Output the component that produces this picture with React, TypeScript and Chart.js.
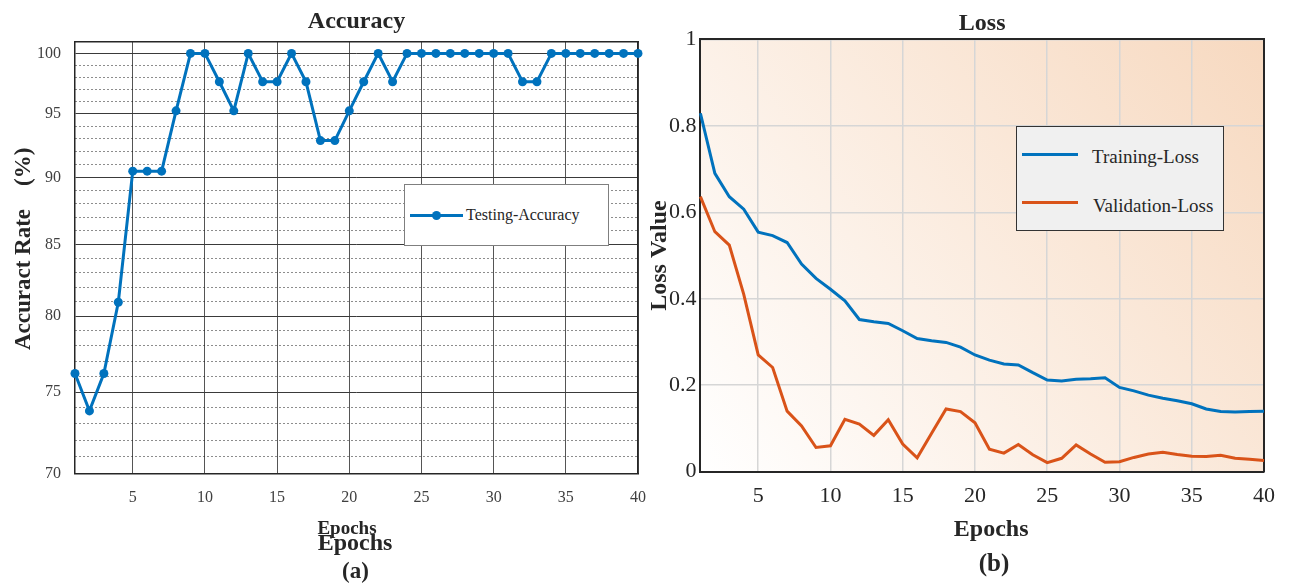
import React, { useEffect, useRef } from 'react';
import { Chart, registerables } from 'chart.js';

Chart.register(...registerables);

// ---------------- data ----------------
const epochs = [1, 2, 3, 4, 5, 6, 7, 8, 9, 10, 11, 12, 13, 14, 15, 16, 17, 18, 19, 20,
  21, 22, 23, 24, 25, 26, 27, 28, 29, 30, 31, 32, 33, 34, 35, 36, 37, 38, 39, 40];

const testingAccuracy = [76.19, 73.81, 76.19, 80.95, 90.48, 90.48, 90.48, 95.24, 100, 100,
  97.62, 95.24, 100, 97.62, 97.62, 100, 97.62, 92.86, 92.86, 95.24,
  97.62, 100, 97.62, 100, 100, 100, 100, 100, 100, 100,
  100, 97.62, 97.62, 100, 100, 100, 100, 100, 100, 100];

const trainingLoss = [0.829, 0.690, 0.636, 0.607, 0.554, 0.546, 0.530, 0.480, 0.447, 0.422,
  0.395, 0.352, 0.347, 0.343, 0.326, 0.308, 0.303, 0.299, 0.288, 0.270,
  0.258, 0.249, 0.247, 0.229, 0.212, 0.210, 0.214, 0.215, 0.217, 0.195,
  0.187, 0.177, 0.170, 0.164, 0.157, 0.145, 0.139, 0.138, 0.139, 0.140];

const validationLoss = [0.636, 0.555, 0.524, 0.410, 0.270, 0.241, 0.140, 0.106, 0.056, 0.060,
  0.121, 0.110, 0.084, 0.120, 0.064, 0.032, 0.089, 0.145, 0.139, 0.113,
  0.052, 0.043, 0.063, 0.039, 0.021, 0.031, 0.062, 0.041, 0.022, 0.023,
  0.033, 0.041, 0.045, 0.040, 0.036, 0.035, 0.038, 0.031, 0.029, 0.026];

const epochTicks = [5, 10, 15, 20, 25, 30, 35, 40];
const accMajorTicks = [70, 75, 80, 85, 90, 95, 100];
const lossTicks = [0, 0.2, 0.4, 0.6, 0.8, 1];

const accSeriesName = 'Testing-Accuracy';
const lossSeriesNames = ['Training-Loss', 'Validation-Loss'];

// ---------------- style ----------------
const SERIF = "'Liberation Serif', 'Times New Roman', serif";
const BLUE = '#0072BD';
const ORANGE = '#D95319';
const DARK = '#262626';

// gridline positions for the log accuracy axis: every integer between first and last major tick
const accGridValues: number[] = [];
for (let v = accMajorTicks[0]; v <= accMajorTicks[accMajorTicks.length - 1]; v++) accGridValues.push(v);

const setTicks = (vals: number[]) => (s: any) => { s.ticks = vals.map((v) => ({ value: v })); };
const setH = (h: number) => (s: any) => { s.height = h; };
const setW = (w: number) => (s: any) => { s.width = w; };

const plotBg = {
  id: 'plotBg',
  beforeDraw(chart: any) {
    const { ctx, chartArea: a } = chart;
    const g = ctx.createLinearGradient(a.left, a.bottom, a.right, a.top);
    g.addColorStop(0, '#ffffff');
    g.addColorStop(1, '#f7d9c0');
    ctx.save();
    ctx.fillStyle = g;
    ctx.fillRect(a.left, a.top, a.right - a.left, a.bottom - a.top);
    ctx.restore();
  },
};

export default function App() {
  const accRef = useRef<HTMLCanvasElement>(null);
  const lossRef = useRef<HTMLCanvasElement>(null);

  useEffect(() => {
    const accChart = new Chart(accRef.current as HTMLCanvasElement, {
      type: 'line',
      data: {
        datasets: [{
          label: accSeriesName,
          data: epochs.map((e, i) => ({ x: e, y: testingAccuracy[i] })),
          borderColor: BLUE,
          backgroundColor: BLUE,
          borderWidth: 3,
          pointRadius: 4.5,
          pointHoverRadius: 4.5,
          pointBorderWidth: 0,
          pointBackgroundColor: BLUE,
          tension: 0,
          clip: false,
        }],
      },
      options: {
        responsive: false,
        animation: false,
        events: [],
        layout: { padding: 0, autoPadding: false },
        plugins: {
          legend: { display: false },
          tooltip: { enabled: false },
          title: {
            display: true, text: 'Accuracy', fullSize: false, color: DARK,
            font: { family: SERIF, size: 24, weight: 'bold' },
            padding: { top: 7.8, bottom: 0 },
          },
        },
        scales: {
          x: {
            type: 'linear', position: 'bottom', min: 1, max: 40, bounds: 'data',
            afterBuildTicks: setTicks(epochTicks), afterFit: setH(114.7),
            ticks: { color: '#404040', font: { family: SERIF, size: 16, lineHeight: 2.84 }, padding: 2, maxRotation: 0, autoSkip: false },
            grid: { color: '#555555', lineWidth: 1, drawTicks: false },
            border: { color: DARK, width: 1.5 },
            title: {
              display: true, text: 'Epochs    ', color: DARK,
              font: { family: SERIF, size: 19, weight: 'bold' },
              padding: { top: 0, bottom: 48 },
            },
          },
          x2: {
            type: 'linear', position: 'top', min: 1, max: 40, display: true,
            afterFit: setH(5.1),
            ticks: { display: false }, grid: { display: false, drawTicks: false },
            border: { display: true, color: DARK, width: 1.5 },
          },
          y: {
            type: 'logarithmic', position: 'left', min: 70, max: 101, bounds: 'data',
            afterBuildTicks: setTicks(accGridValues), afterFit: setW(75),
            ticks: {
              color: '#404040', font: { family: SERIF, size: 16 }, padding: 14, autoSkip: false,
              callback: (v: any) => (accMajorTicks.includes(Number(v)) ? String(v) : ''),
            },
            grid: {
              drawTicks: false, lineWidth: 1,
              color: (c: any) => (c.tick && accMajorTicks.includes(c.tick.value) ? '#3a3a3a' : '#1a1a1a'),
            },
            border: {
              color: DARK, width: 1.5,
              dash: (c: any) => (c.tick && !accMajorTicks.includes(c.tick.value) ? [1, 3] : []),
            },
            title: {
              display: true, text: '   Accuract Rate    (%)', color: DARK,
              font: { family: SERIF, size: 23, weight: 'bold' },
              padding: { top: 10.4, bottom: 0 },
            },
          },
          y2: {
            type: 'linear', position: 'right', display: true,
            afterFit: setW(12),
            ticks: { display: false }, grid: { display: false, drawTicks: false },
            border: { display: true, color: DARK, width: 1.5 },
          },
        },
      } as any,
    });

    const lossChart = new Chart(lossRef.current as HTMLCanvasElement, {
      type: 'line',
      data: {
        datasets: [
          {
            label: lossSeriesNames[0],
            data: epochs.map((e, i) => ({ x: e, y: trainingLoss[i] })),
            borderColor: BLUE, backgroundColor: BLUE, borderWidth: 3,
            pointRadius: 0, tension: 0, clip: false,
          },
          {
            label: lossSeriesNames[1],
            data: epochs.map((e, i) => ({ x: e, y: validationLoss[i] })),
            borderColor: ORANGE, backgroundColor: ORANGE, borderWidth: 3,
            pointRadius: 0, tension: 0, clip: false,
          },
        ],
      },
      options: {
        responsive: false,
        animation: false,
        events: [],
        layout: { padding: 0, autoPadding: false },
        plugins: {
          legend: { display: false },
          tooltip: { enabled: false },
          title: {
            display: true, text: 'Loss', fullSize: false, color: DARK,
            font: { family: SERIF, size: 24, weight: 'bold' },
            padding: { top: 9.2, bottom: 0 },
          },
        },
        scales: {
          x: {
            type: 'linear', position: 'bottom', min: 1, max: 40, bounds: 'data',
            afterBuildTicks: setTicks(epochTicks), afterFit: setH(116.3),
            ticks: { color: DARK, font: { family: SERIF, size: 22 }, padding: 11, maxRotation: 0, autoSkip: false },
            grid: { color: '#d6d6d6', lineWidth: 1.5, drawTicks: false },
            border: { color: DARK, width: 2 },
            title: {
              display: true, text: '   Epochs', color: DARK,
              font: { family: SERIF, size: 24, weight: 'bold' },
              padding: { top: 0, bottom: 43.7 },
            },
          },
          x2: {
            type: 'linear', position: 'top', min: 1, max: 40, display: true,
            afterFit: setH(1.3),
            ticks: { display: false }, grid: { display: false, drawTicks: false },
            border: { display: true, color: DARK, width: 2 },
          },
          y: {
            type: 'linear', position: 'left', min: 0, max: 1, bounds: 'data',
            afterBuildTicks: setTicks(lossTicks), afterFit: setW(50.4),
            ticks: {
              color: DARK, font: { family: SERIF, size: 22 }, padding: 4, autoSkip: false,
              callback: (v: any) => String(v),
            },
            grid: { color: '#d6d6d6', lineWidth: 1.5, drawTicks: false },
            border: { color: DARK, width: 2 },
            title: {
              display: true, text: 'Loss Value', color: DARK,
              font: { family: SERIF, size: 24, weight: 'bold', lineHeight: 0.8 },
              padding: { top: 0.3, bottom: 0 },
            },
          },
          y2: {
            type: 'linear', position: 'right', display: true,
            afterFit: setW(25),
            ticks: { display: false }, grid: { display: false, drawTicks: false },
            border: { display: true, color: DARK, width: 2 },
          },
        },
      } as any,
      plugins: [plotBg],
    });

    return () => {
      accChart.destroy();
      lossChart.destroy();
    };
  }, []);

  const abs = (s: React.CSSProperties): React.CSSProperties => ({ position: 'absolute', ...s });
  const txt = (size: number, bold = false): React.CSSProperties => ({
    fontFamily: SERIF, fontSize: size, lineHeight: `${size}px`, fontWeight: bold ? 'bold' : 'normal',
    color: DARK, whiteSpace: 'nowrap',
  });

  return (
    <div style={{ position: 'fixed', left: 0, top: 0, width: 1289, height: 588, background: '#ffffff', overflow: 'hidden' }}>
      <canvas ref={accRef} width={650} height={588} style={abs({ left: 0, top: 0 })} />
      <canvas ref={lossRef} width={639} height={588} style={abs({ left: 650, top: 0 })} />

      {/* accuracy legend */}
      <div style={abs({ left: 404, top: 184, width: 205, height: 62, boxSizing: 'border-box', border: '1px solid #7f7f7f', background: '#ffffff' })} />
      <div style={abs({ left: 410, top: 213.5, width: 53, height: 3, background: BLUE })} />
      <div style={abs({ left: 432, top: 210.5, width: 9, height: 9, borderRadius: '50%', background: BLUE })} />
      <div style={abs({ left: 466, top: 207, ...txt(16) })}>{accSeriesName}</div>

      {/* loss legend */}
      <div style={abs({ left: 1016, top: 126, width: 208, height: 105, boxSizing: 'border-box', border: '1px solid #333333', background: '#f0f0f0' })} />
      <div style={abs({ left: 1022, top: 152.5, width: 56, height: 3, background: BLUE })} />
      <div style={abs({ left: 1022, top: 200.8, width: 56, height: 3, background: ORANGE })} />
      <div style={abs({ left: 1092, top: 147.4, ...txt(19) })}>{lossSeriesNames[0]}</div>
      <div style={abs({ left: 1093, top: 195.8, ...txt(19) })}>{lossSeriesNames[1]}</div>

      {/* captions */}
      <div style={abs({ left: 255, top: 529.9, width: 200, textAlign: 'center', ...txt(24, true) })}>Epochs</div>
      <div style={abs({ left: 255.5, top: 558.7, width: 200, textAlign: 'center', ...txt(23, true) })}>(a)</div>
      <div style={abs({ left: 894, top: 549.7, width: 200, textAlign: 'center', ...txt(25, true) })}>(b)</div>
    </div>
  );
}
